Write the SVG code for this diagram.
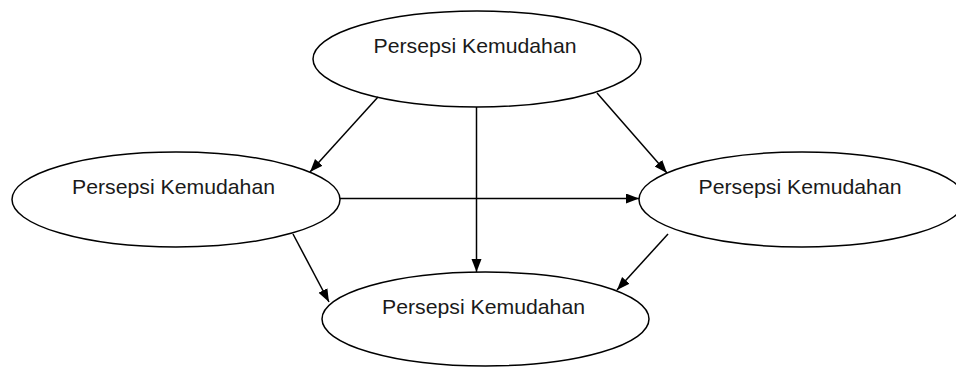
<svg xmlns="http://www.w3.org/2000/svg" width="956" height="367" viewBox="0 0 956 367">
  <style>
    .node ellipse { fill: #ffffff; stroke: #000000; stroke-width: 1.5; }
    .node text { font-family: "Liberation Sans", Arial, sans-serif; font-size: 21px; fill: #1a1a1a; text-anchor: middle; }
    .edge { stroke: #000000; stroke-width: 1.5; fill: none; marker-end: url(#arrow); }
  </style>
  <defs>
    <marker id="arrow" markerUnits="userSpaceOnUse" markerWidth="14" markerHeight="12" refX="13" refY="5" orient="auto">
      <path d="M0,0 L13,5 L0,10 Z" fill="#000000"/>
    </marker>
  </defs>
  <rect width="956" height="367" fill="#ffffff"/>

  <g id="node-top" class="node">
    <ellipse cx="477" cy="59" rx="164" ry="48"/>
    <text x="475" y="53" textLength="203" lengthAdjust="spacingAndGlyphs">Persepsi Kemudahan</text>
  </g>
  <g id="node-left" class="node">
    <ellipse cx="176" cy="199.5" rx="164" ry="47.5"/>
    <text x="173.5" y="194" textLength="203" lengthAdjust="spacingAndGlyphs">Persepsi Kemudahan</text>
  </g>
  <g id="node-right" class="node">
    <ellipse cx="802" cy="199.5" rx="163" ry="47.5"/>
    <text x="800" y="194" textLength="203" lengthAdjust="spacingAndGlyphs">Persepsi Kemudahan</text>
  </g>
  <g id="node-bottom" class="node">
    <ellipse cx="485.5" cy="319" rx="163.5" ry="47"/>
    <text x="483.5" y="314" textLength="203" lengthAdjust="spacingAndGlyphs">Persepsi Kemudahan</text>
  </g>

  <g id="connectors">
    <line class="edge" x1="378" y1="97" x2="310" y2="172"/>
    <line class="edge" x1="597" y1="93" x2="667" y2="173"/>
    <line class="edge" x1="476.5" y1="107" x2="476.5" y2="272"/>
    <line class="edge" x1="340" y1="198.5" x2="639" y2="198.5"/>
    <line class="edge" x1="293" y1="234" x2="329" y2="302"/>
    <line class="edge" x1="668" y1="234" x2="617" y2="290"/>
  </g>
</svg>
